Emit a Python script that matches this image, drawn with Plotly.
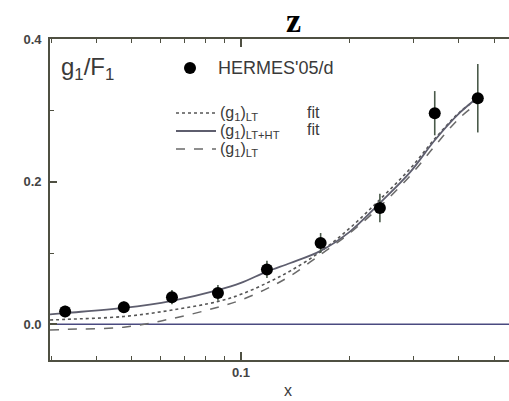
import math
import plotly.graph_objects as go

# ---- data ----
x_data = [0.0327, 0.0475, 0.0645, 0.0864, 0.118, 0.166, 0.242, 0.343, 0.451]
y_data = [0.018, 0.024, 0.038, 0.044, 0.077, 0.114, 0.163, 0.296, 0.317]
y_err = [0.008, 0.008, 0.010, 0.011, 0.012, 0.014, 0.020, 0.031, 0.048]

x_curve = [0.0297, 0.033, 0.0475, 0.0645, 0.0864, 0.1, 0.118, 0.137, 0.166,
           0.2, 0.242, 0.293, 0.343, 0.403, 0.451]
y_lt_fit = [0.006, 0.007, 0.011, 0.020, 0.032, 0.042, 0.058, 0.075, 0.102,
            0.135, 0.175, 0.218, 0.260, 0.298, 0.316]
y_ltht_fit = [0.014, 0.016, 0.023, 0.033, 0.048, 0.058, 0.074, 0.086, 0.103,
              0.130, 0.170, 0.213, 0.258, 0.297, 0.318]
y_lt = [-0.008, -0.007, -0.004, 0.008, 0.024, 0.034, 0.050, 0.068, 0.098,
        0.128, 0.165, 0.208, 0.250, 0.290, 0.310]

x_range = [0.0297, 0.55]
y_range = [-0.05, 0.4]
y_major = [0.0, 0.2, 0.4]
y_labels = ["0.0", "0.2", "0.4"]
y_minor = [0.1, 0.3]
x_major = [0.1]
x_labels = ["0.1"]
x_minor = [0.03, 0.04, 0.05, 0.06, 0.07, 0.08, 0.09, 0.2, 0.3, 0.4, 0.5]

# ---- layout helpers (pixel -> paper) ----
L, R, T, B = 50, 509, 39, 360
W, H = 509, 401


def px(xp):
    return (xp - L) / (R - L)


def py(yp):
    return (B - yp) / (B - T)


AX = "#4f5042"
TXT = "#3a3a3a"

fig = go.Figure()

fig.add_trace(go.Scatter(x=x_curve, y=y_lt_fit, mode="lines", line_shape="spline",
                         line=dict(color="#555555", width=1.6, dash="dot"), showlegend=False))
fig.add_trace(go.Scatter(x=x_curve, y=y_ltht_fit, mode="lines", line_shape="spline",
                         line=dict(color="#5e5e6e", width=1.8), showlegend=False))
fig.add_trace(go.Scatter(x=x_curve, y=y_lt, mode="lines", line_shape="spline",
                         line=dict(color="#6a6a6a", width=1.5, dash="dash"), showlegend=False))
fig.add_trace(go.Scatter(x=x_data, y=y_data, mode="markers",
                         marker=dict(color="black", size=12),
                         error_y=dict(type="data", array=y_err, color="#4a5a4a", thickness=1.6, width=0),
                         showlegend=False))

shapes = [
    dict(type="line", xref="paper", yref="y", x0=0, x1=1, y0=0, y1=0,
         line=dict(color="#4a4a80", width=1.5), layer="below"),
    # legend samples
    dict(type="circle", xref="paper", yref="paper", x0=px(184), x1=px(196), y0=py(74), y1=py(62),
         fillcolor="black", line=dict(color="black", width=0)),
    dict(type="line", xref="paper", yref="paper", x0=px(176), x1=px(216), y0=py(113), y1=py(113),
         line=dict(color="#555555", width=1.6, dash="dot")),
    dict(type="line", xref="paper", yref="paper", x0=px(176), x1=px(216), y0=py(131), y1=py(131),
         line=dict(color="#5e5e6e", width=1.8)),
    dict(type="line", xref="paper", yref="paper", x0=px(176), x1=px(216), y0=py(149), y1=py(149),
         line=dict(color="#6a6a6a", width=1.5, dash="dash")),
]

annotations = [
    dict(text="z", x=px(293), y=py(21), xref="paper", yref="paper", showarrow=False,
         font=dict(family="Liberation Serif", size=34, color="black", weight="bold"),
         xanchor="center", yanchor="middle"),
    dict(text="g<sub>1</sub>/F<sub>1</sub>", x=px(59), y=py(68), xref="paper", yref="paper",
         showarrow=False, font=dict(family="Liberation Sans", size=24, color=TXT),
         xanchor="left", yanchor="middle"),
    dict(text="HERMES'05/d", x=px(216), y=py(68), xref="paper", yref="paper", showarrow=False,
         font=dict(family="Liberation Sans", size=18, color=TXT), xanchor="left", yanchor="middle"),
    dict(text="(g<sub>1</sub>)<sub>LT</sub>", x=px(218), y=py(113), xref="paper", yref="paper",
         showarrow=False, font=dict(family="Liberation Sans", size=16, color=TXT),
         xanchor="left", yanchor="middle"),
    dict(text="fit", x=px(305), y=py(112), xref="paper", yref="paper", showarrow=False,
         font=dict(family="Liberation Sans", size=16, color=TXT), xanchor="left", yanchor="middle"),
    dict(text="(g<sub>1</sub>)<sub>LT+HT</sub>", x=px(218), y=py(131), xref="paper", yref="paper",
         showarrow=False, font=dict(family="Liberation Sans", size=16, color=TXT),
         xanchor="left", yanchor="middle"),
    dict(text="fit", x=px(305), y=py(129), xref="paper", yref="paper", showarrow=False,
         font=dict(family="Liberation Sans", size=16, color=TXT), xanchor="left", yanchor="middle"),
    dict(text="(g<sub>1</sub>)<sub>LT</sub>", x=px(218), y=py(149), xref="paper", yref="paper",
         showarrow=False, font=dict(family="Liberation Sans", size=16, color=TXT),
         xanchor="left", yanchor="middle"),
    dict(text="x", x=px(288), y=py(391), xref="paper", yref="paper", showarrow=False,
         font=dict(family="Liberation Sans", size=16, color=TXT), xanchor="center", yanchor="middle"),
]

fig.update_layout(
    width=W, height=H,
    margin=dict(l=L, r=W - R, t=T, b=H - B),
    paper_bgcolor="white", plot_bgcolor="white",
    shapes=shapes, annotations=annotations,
    xaxis=dict(type="log", range=[math.log10(v) for v in x_range],
               tickvals=x_major, ticktext=x_labels, ticks="inside", ticklen=8, tickwidth=1.5,
               tickcolor=AX, showline=True, linecolor=AX, linewidth=1.6, mirror="ticks",
               showgrid=False, zeroline=False,
               tickfont=dict(family="Liberation Sans", size=13, color="#444444", weight="bold"),
               minor=dict(tickvals=x_minor, ticks="inside", ticklen=4, tickwidth=1.3,
                          tickcolor=AX, showgrid=False)),
    yaxis=dict(range=y_range, tickvals=y_major, ticktext=y_labels,
               ticks="inside", ticklen=7, tickwidth=1.5, tickcolor=AX,
               showline=True, linecolor=AX, linewidth=1.8, showgrid=False, zeroline=False,
               tickfont=dict(family="Liberation Sans", size=13, color="#444444", weight="bold"),
               ticklabelstandoff=4,
               minor=dict(tickvals=y_minor, ticks="inside", ticklen=4, tickwidth=1.3,
                          tickcolor=AX, showgrid=False)),
)

fig.write_html("out.html")
